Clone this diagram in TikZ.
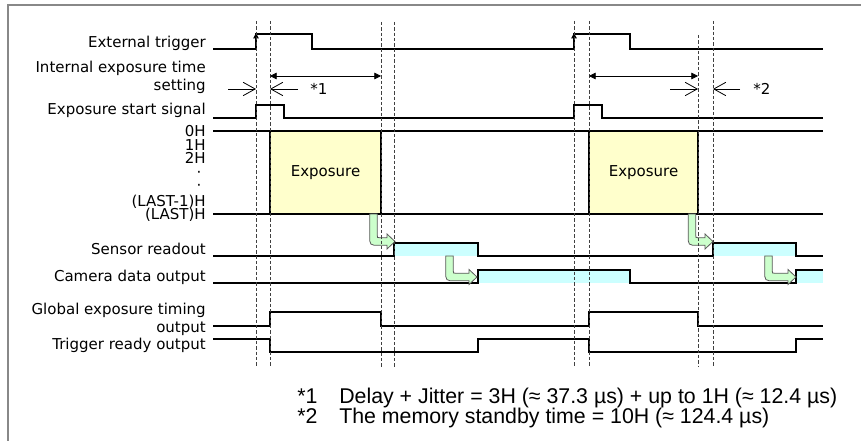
\documentclass[tikz,border=0pt]{standalone}
\usepackage{fontspec}
\setmainfont{DejaVu Sans}
\newfontfamily\notefont{Liberation Sans}
\usetikzlibrary{arrows.meta}
\definecolor{ExpYellow}{RGB}{255,255,204}
\definecolor{BusyCyan}{RGB}{204,255,255}
\definecolor{HandGreen}{RGB}{204,255,204}
\definecolor{FrameGray}{RGB}{136,136,136}

\begin{document}
\begin{tikzpicture}[
    x=0.75pt, y=-0.75pt,
    font=\fontsize{11.25}{13.5}\selectfont,
    siglab/.style={anchor=east, align=right, inner sep=0pt},
    hlab/.style={anchor=base east, inner sep=0pt},
    sig/.style={line width=1.1pt, line join=miter},
    guide/.style={black!75, line width=0.6pt, dash pattern=on 2.5pt off 1.5pt},
    expbox/.style={draw, line width=1.1pt, fill=ExpYellow},
    busy/.style={fill=BusyCyan},
    handover/.style={draw=black!65, line width=0.6pt, fill=HandGreen},
    span/.style={{Triangle[length=5pt,width=5pt]}-{Triangle[length=5pt,width=5pt]}, line width=0.6pt},
    gap/.style={-{Straight Barb[length=9pt,width=10pt]}, line width=0.6pt},
    note/.style={anchor=base west, inner sep=0pt, font=\notefont\fontsize{16}{19}\selectfont},
]

% Marco de la figura (solo arriba y a la izquierda)
\useasboundingbox (0,0) rectangle (861,441);
\draw[FrameGray, line width=2pt] (8,441) -- (8,5) -- (861,5);

% Etiquetas de las señales
\node[hlab] (trig) at (206,48) {External trigger};
\node[siglab] (inexp) at (206,77) {Internal exposure time\\setting};
\node[hlab] (start) at (206,115) {Exposure start signal};
\foreach \t/\y [count=\i] in {0H/137, 1H/150.5, 2H/164, {(LAST-1)H}/207, {(LAST)H}/220}{
    \node[hlab] (h\i) at (206,\y) {\t};
}
\node[inner sep=0pt] (dot1) at (199,174) {·};
\node[inner sep=0pt] (dot2) at (199,187) {·};
\node[hlab] (read) at (206,255) {Sensor readout};
\node[hlab] (cam) at (206,282) {Camera data output};
\node[siglab] (glob) at (206,319) {Global exposure timing\\output};
\node[hlab] (ready) at (206,350) {Trigger ready output};

% Zonas ocupadas (lectura y salida de datos)
\fill[busy] (394,243) rectangle (478,256);
\fill[busy] (713,243) rectangle (796,256);
\fill[busy] (478,270) rectangle (630,283);
\fill[busy] (796,270) rectangle (823,283);

% Bloques de exposición
\draw[expbox] (270,131) rectangle (381,214);
\node (exp1) at (325.5,172.5) {Exposure};
\draw[expbox] (589,131) rectangle (698,214);
\node (exp2) at (643.5,172.5) {Exposure};

% Formas de onda
\draw[sig] (213,49) -- (256,49) -- (256,34) -- (312,34) -- (312,49) -- (574,49)
    -- (574,34) -- (630,34) -- (630,49) -- (823,49);
\foreach \x in {256, 574}{
    \draw[-{Triangle[length=4pt,width=4pt]}, line width=0.8pt] (\x,44) -- (\x,33);
}
\draw[sig] (213,118) -- (256,118) -- (256,105) -- (284,105) -- (284,118) -- (574,118)
    -- (574,105) -- (602,105) -- (602,118) -- (823,118);
\draw[sig] (213,131) -- (270,131) (381,131) -- (589,131) (698,131) -- (823,131);
\draw[sig] (213,214) -- (823,214);
\draw[sig] (213,256) -- (394,256) -- (394,243) -- (478,243) -- (478,256) -- (713,256)
    -- (713,243) -- (796,243) -- (796,256) -- (823,256);
\draw[sig] (213,283) -- (478,283) -- (478,270) -- (630,270) -- (630,283) -- (796,283)
    -- (796,270) -- (823,270);
\draw[sig] (213,326) -- (270,326) -- (270,312) -- (381,312) -- (381,326) -- (589,326)
    -- (589,312) -- (698,312) -- (698,326) -- (823,326);
\draw[sig] (213,339) -- (270,339) -- (270,352) -- (478,352) -- (478,339) -- (589,339)
    -- (589,352) -- (796,352) -- (796,339) -- (823,339);

% Flechas verdes de traspaso: eje x, y superior, y del tramo horizontal, punta
\foreach \c/\yt/\ym/\xt in {373.5/214/241.5/395, 449.5/256/277/477,
                            692/214/241.5/713, 768.5/256/277/796}{
    \draw[handover] (\c-3.8,\yt) -- (\c-3.8,\ym-6)
        .. controls (\c-3.8,\ym+3.8) .. (\c+6,\ym+3.8)
        -- (\xt-8,\ym+3.8) -- (\xt-8,\ym+7.5) -- (\xt,\ym) -- (\xt-8,\ym-7.5)
        -- (\xt-8,\ym-3.8) -- (\c+5.8,\ym-3.8)
        .. controls (\c+3.8,\ym-3.8) .. (\c+3.8,\ym-5.8) -- (\c+3.8,\yt) -- cycle;
}

% Líneas guía discontinuas
\foreach \x/\ytop in {256/21, 270/21, 381/22, 394/22, 574/21, 589/21, 698/35, 713/21}{
    \draw[guide] (\x,\ytop) -- (\x,367);
}

% Cotas de tiempo
\draw[span] (270,76) -- (381,76);
\draw[span] (589,76) -- (698,76);
\draw[gap] (228,89) -- (256,89);
\draw[gap] (298,89) -- (270,89);
\node[anchor=base west, inner sep=0pt] (mark1) at (310,95) {*1};
\draw[gap] (670,89) -- (698,89);
\draw[gap] (740,89) -- (713,89);
\node[anchor=base west, inner sep=0pt] (mark2) at (753,95) {*2};

% Notas
\node[note] (fn1m) at (297,404) {*1};
\node[note] (fn1) at (339,404) {Delay + Jitter = 3H (≈ 37.3 µs) + up to 1H (≈ 12.4 µs)};
\node[note] (fn2m) at (297,424) {*2};
\node[note] (fn2) at (339,424) {The memory standby time = 10H (≈ 124.4 µs)};

\end{tikzpicture}
\end{document}
